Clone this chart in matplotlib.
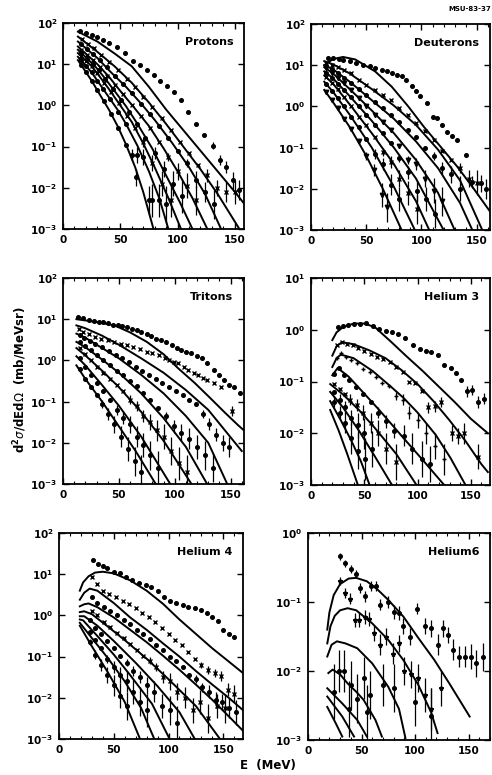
import numpy as np
import matplotlib
matplotlib.use("Agg")
import matplotlib.pyplot as plt
from matplotlib.ticker import FixedLocator, MultipleLocator, FuncFormatter, NullLocator

# all curve / point values are log10 of d2sigma/dEdOmega (mb/MeV sr)
# curves: (energies, log values); points: (E, log value[, error in decades])

# ---------------- protons ----------------
proton_lines = [
    ([13, 30, 45, 60, 75, 90, 105, 120, 135, 150, 158], [1.79, 1.55, 1.26, 0.95, 0.45, -0.1, -0.6, -1.1, -1.6, -2.1, -2.38]),
    ([13, 30, 45, 60, 75, 90, 105, 120, 135, 154], [1.67, 1.3, 0.95, 0.55, 0.07, -0.45, -1.0, -1.55, -2.15, -3.0]),
    ([13, 30, 42, 55, 68, 80, 95, 110, 124, 138], [1.55, 1.15, 0.8, 0.45, 0.05, -0.35, -0.9, -1.5, -2.15, -3.0]),
    ([13, 30, 40, 50, 62, 75, 88, 100, 113, 126], [1.43, 1.0, 0.7, 0.35, -0.05, -0.5, -1.05, -1.6, -2.25, -3.0]),
    ([13, 28, 36, 45, 55, 65, 78, 90, 102, 113], [1.35, 0.95, 0.68, 0.35, -0.02, -0.45, -1.05, -1.7, -2.35, -3.0]),
    ([13, 25, 32, 40, 50, 60, 70, 80, 92, 103], [1.27, 0.95, 0.7, 0.4, 0.0, -0.4, -0.92, -1.5, -2.25, -3.0]),
    ([13, 25, 32, 40, 48, 55, 65, 75, 84, 92], [1.18, 0.8, 0.52, 0.2, -0.12, -0.45, -0.98, -1.6, -2.25, -3.0]),
    ([13, 25, 32, 40, 48, 55, 63, 70, 79], [1.1, 0.6, 0.27, -0.1, -0.52, -0.95, -1.5, -2.1, -3.0]),
]
proton_points = [
    [(15, 1.8), (20, 1.76), (25, 1.71), (30, 1.65), (35, 1.58), (40, 1.52), (47, 1.42), (54, 1.27), (61, 1.08),
     (67, 0.97), (73, 0.86), (79, 0.74), (85, 0.6), (91, 0.47), (97, 0.33), (103, 0.13), (109, -0.15),
     (116, -0.44), (123, -0.72), (131, -0.98, 0.08), (137, -1.33, 0.12), (142, -1.5, 0.15), (148, -1.82, 0.2),
     (154, -2.05, 0.25)],
    [(17, 1.6), (22, 1.5), (27, 1.4), (33, 1.22), (40, 1.05), (48, 0.85), (56, 0.65), (63, 0.45), (70, 0.2),
     (78, -0.05), (86, -0.3), (94, -0.6), (102, -0.9), (110, -1.15), (118, -1.45), (126, -1.7, 0.15),
     (134, -2.0, 0.2), (142, -2.1, 0.25), (150, -2.1, 0.3)],
    [(16, 1.5), (21, 1.38), (26, 1.25), (32, 1.1), (38, 0.92), (45, 0.72), (52, 0.53), (60, 0.3), (68, 0.03),
     (76, -0.22), (84, -0.5), (92, -0.8), (100, -1.1), (108, -1.4, 0.1), (116, -1.8, 0.2), (124, -2.1, 0.25),
     (132, -2.4, 0.35)],
    [(16, 1.35), (21, 1.22), (26, 1.1), (32, 0.92), (38, 0.72), (45, 0.5), (52, 0.28), (60, 0.0), (68, -0.25),
     (76, -0.55), (84, -0.9), (92, -1.25, 0.1), (100, -1.6, 0.2), (108, -1.95, 0.3), (116, -2.3, 0.35)],
    [(16, 1.28), (21, 1.12), (26, 1.0), (31, 0.85), (37, 0.63), (44, 0.4), (51, 0.12), (58, -0.15), (65, -0.45),
     (72, -0.8), (80, -1.15, 0.15), (88, -1.55, 0.2), (96, -1.9, 0.3), (104, -2.2, 0.4)],
    [(16, 1.2), (20, 1.08), (25, 0.95), (30, 0.78), (36, 0.55), (42, 0.32), (49, 0.05), (56, -0.25), (63, -0.55),
     (70, -0.9, 0.1), (78, -1.4, 0.2), (86, -1.9, 0.3), (94, -2.3, 0.4)],
    [(16, 1.1), (20, 0.95), (25, 0.8), (30, 0.6), (35, 0.4), (41, 0.15), (48, -0.15), (55, -0.45),
     (60, -1.2, 0.15), (65, -1.2, 0.2), (70, -1.25, 0.2), (78, -2.3, 0.4), (84, -2.3, 0.4), (90, -2.4, 0.45)],
    [(16, 0.98), (20, 0.8), (25, 0.6), (30, 0.38), (36, 0.1), (42, -0.2), (48, -0.55), (55, -0.95),
     (64, -1.75, 0.2), (75, -2.3, 0.35)],
]
proton_marks = ['o', 'x', 'o', 'x', 'o', 'x', 'o', 'o']

# ---------------- deuterons ----------------
deuteron_lines = [
    ([12, 20, 29, 40, 58, 73, 88, 102, 117, 132, 146, 162], [1.0, 1.15, 1.2, 1.14, 0.85, 0.48, 0.0, -0.49, -0.97, -1.45, -1.95, -2.55]),
    ([12, 20, 35, 55, 75, 95, 115, 135, 155], [1.1, 1.02, 0.8, 0.42, 0.02, -0.45, -1.05, -1.8, -3.0]),
    ([12, 20, 35, 55, 75, 95, 115, 135, 146], [1.0, 0.9, 0.6, 0.15, -0.3, -0.85, -1.5, -2.35, -3.0]),
    ([12, 20, 35, 55, 75, 95, 115, 130], [0.95, 0.8, 0.42, -0.1, -0.65, -1.3, -2.1, -3.0]),
    ([12, 20, 35, 55, 75, 95, 120], [0.85, 0.68, 0.25, -0.35, -1.0, -1.75, -3.0]),
    ([12, 20, 35, 55, 75, 95, 107], [0.75, 0.55, 0.05, -0.65, -1.4, -2.3, -3.0]),
    ([12, 20, 35, 55, 75, 94], [0.6, 0.35, -0.2, -1.0, -1.95, -3.0]),
    ([12, 20, 35, 50, 65, 82], [0.4, 0.1, -0.5, -1.2, -2.0, -3.0]),
]
deuteron_points = [
    [(15, 1.17), (20, 1.17), (25, 1.15), (29, 1.13), (35, 1.1), (41, 1.05), (47, 1.01), (53, 0.97), (58, 0.93),
     (64, 0.89), (69, 0.85), (73, 0.81), (78, 0.77), (82, 0.73), (86, 0.63), (91, 0.49), (95, 0.37), (99, 0.25),
     (105, 0.08), (110, -0.25), (114, -0.28), (119, -0.45), (123, -0.61), (128, -0.72), (132, -0.81),
     (140, -1.17), (146, -1.83, 0.15), (154, -1.87, 0.2), (158, -2.0, 0.25)],
    [(14, 1.05), (19, 1.0), (24, 0.95), (30, 0.88), (36, 0.8), (43, 0.65), (50, 0.52), (58, 0.4), (65, 0.28),
     (72, 0.15), (80, -0.05), (88, -0.2), (95, -0.4), (103, -0.6), (111, -0.82), (119, -1.08), (127, -1.3),
     (135, -1.5, 0.12), (143, -1.75, 0.2), (150, -1.85, 0.3)],
    [(14, 0.98), (19, 0.9), (24, 0.8), (30, 0.7), (36, 0.58), (43, 0.42), (50, 0.28), (58, 0.1), (65, -0.05),
     (72, -0.2), (80, -0.38), (88, -0.58), (95, -0.75), (103, -1.0), (111, -1.2, 0.1), (119, -1.5, 0.15),
     (127, -1.65, 0.2), (135, -2.0, 0.3)],
    [(14, 0.92), (19, 0.82), (24, 0.7), (30, 0.56), (36, 0.4), (43, 0.2), (50, 0.02), (58, -0.2), (65, -0.38),
     (72, -0.57), (80, -0.95), (88, -1.3, 0.1), (95, -1.4, 0.15), (103, -1.75, 0.2), (111, -2.05, 0.3),
     (119, -2.3, 0.35)],
    [(14, 0.82), (19, 0.7), (24, 0.55), (30, 0.4), (36, 0.22), (43, 0.0), (50, -0.2), (58, -0.45), (65, -0.65),
     (72, -0.9), (80, -1.25, 0.1), (88, -1.6, 0.15), (96, -2.05, 0.25), (104, -2.25, 0.3), (112, -2.6, 0.35)],
    [(14, 0.72), (19, 0.58), (24, 0.42), (30, 0.22), (36, 0.0), (43, -0.25), (50, -0.45), (58, -0.75),
     (65, -1.1, 0.1), (72, -1.35, 0.15), (80, -1.75, 0.2), (88, -2.1, 0.3), (96, -2.5, 0.35)],
    [(14, 0.55), (19, 0.38), (24, 0.2), (30, 0.0), (36, -0.25), (43, -0.5), (50, -0.8), (58, -1.15, 0.12),
     (65, -1.4, 0.15), (72, -1.9, 0.25), (80, -2.25, 0.3)],
    [(14, 0.35), (19, 0.15), (24, -0.05), (30, -0.3), (36, -0.55), (43, -0.85), (50, -1.2, 0.1),
     (57, -1.55, 0.15), (64, -2.15, 0.3), (69, -2.45, 0.35)],
]
deuteron_marks = ['o', 'x', 'o', 'v', 'o', 'x', 'o', 'v']

# ---------------- tritons ----------------
triton_lines = [
    ([12, 20, 30, 46, 60, 75, 90, 103, 118, 132, 145, 157, 162], [1.0, 0.97, 0.93, 0.85, 0.68, 0.45, 0.15, -0.19, -0.55, -0.92, -1.27, -1.58, -1.7]),
    ([12, 20, 35, 50, 70, 90, 110, 130, 145, 160], [0.85, 0.78, 0.6, 0.38, 0.05, -0.3, -0.72, -1.2, -1.7, -2.2]),
    ([12, 20, 35, 50, 70, 90, 110, 130, 147], [0.65, 0.55, 0.3, 0.05, -0.35, -0.8, -1.35, -2.0, -3.0]),
    ([12, 20, 35, 50, 70, 90, 110, 129], [0.45, 0.32, 0.02, -0.3, -0.8, -1.4, -2.1, -3.0]),
    ([12, 20, 35, 50, 70, 90, 115], [0.3, 0.12, -0.25, -0.65, -1.25, -1.95, -3.0]),
    ([12, 20, 35, 50, 70, 96], [0.1, -0.12, -0.6, -1.1, -1.85, -3.0]),
    ([12, 20, 35, 50, 65, 83], [-0.12, -0.45, -1.0, -1.6, -2.2, -3.0]),
]
triton_points = [
    [(13, 1.06), (18, 1.02), (23, 0.98), (28, 0.95), (32, 0.94), (36, 0.92), (40, 0.9), (45, 0.87), (49, 0.85),
     (53, 0.83), (57, 0.81), (62, 0.77), (66, 0.73), (70, 0.69), (75, 0.65), (79, 0.6), (83, 0.53), (88, 0.49),
     (92, 0.44), (98, 0.37), (102, 0.3), (106, 0.25), (110, 0.21), (115, 0.17), (120, 0.1), (124, 0.05),
     (129, -0.07), (135, -0.23), (140, -0.35), (144, -0.47), (149, -0.6), (153, -0.64), (158, -0.78)],
    [(14, 0.77), (18, 0.7), (23, 0.64), (29, 0.57), (34, 0.53), (40, 0.49), (46, 0.45), (52, 0.41), (57, 0.37),
     (63, 0.33), (69, 0.27), (75, 0.21), (80, 0.17), (86, 0.13), (91, 0.07), (95, 0.01), (99, -0.03),
     (103, -0.07), (108, -0.15), (112, -0.23), (117, -0.3), (121, -0.36), (125, -0.42), (129, -0.48),
     (135, -0.56), (141, -0.64), (151, -1.22, 0.12)],
    [(15, 0.62), (19, 0.55), (24, 0.48), (29, 0.4), (35, 0.32), (41, 0.22), (47, 0.13), (53, 0.05), (59, -0.05),
     (65, -0.15), (71, -0.25), (77, -0.35), (83, -0.45), (89, -0.55), (95, -0.65), (101, -0.75), (107, -0.85),
     (113, -0.95), (119, -1.05), (125, -1.3, 0.1), (131, -1.55, 0.15), (137, -1.8, 0.15), (143, -2.0, 0.2),
     (149, -2.1, 0.25)],
    [(15, 0.45), (20, 0.35), (25, 0.25), (30, 0.12), (36, 0.0), (42, -0.12), (48, -0.25), (54, -0.35), (60, -0.5),
     (66, -0.62), (72, -0.78), (78, -0.95), (85, -1.15), (92, -1.35, 0.1), (99, -1.6, 0.15), (106, -1.75, 0.2),
     (113, -1.9, 0.25), (120, -2.1, 0.3), (127, -2.3, 0.35), (134, -2.6, 0.35)],
    [(15, 0.3), (20, 0.15), (25, 0.0), (30, -0.15), (36, -0.3), (42, -0.45), (48, -0.6), (54, -0.75),
     (60, -0.95, 0.1), (66, -1.1, 0.12), (72, -1.35, 0.15), (78, -1.5, 0.2), (84, -1.7, 0.25), (90, -1.85, 0.3),
     (97, -2.2, 0.35), (104, -2.5, 0.4), (111, -2.7, 0.4)],
    [(15, 0.05), (20, -0.15), (25, -0.35), (30, -0.55), (36, -0.75), (42, -0.95), (48, -1.2, 0.12),
     (54, -1.4, 0.15), (60, -1.55, 0.2), (66, -1.85, 0.25), (72, -2.05, 0.3), (78, -2.3, 0.35), (85, -2.6, 0.4)],
    [(15, -0.2), (20, -0.45), (25, -0.65), (30, -0.85), (35, -1.05, 0.1), (40, -1.3, 0.15), (46, -1.55, 0.2),
     (52, -1.85, 0.25), (58, -2.15, 0.3), (64, -2.45, 0.35), (70, -2.7, 0.4)],
]
triton_marks = ['o', 'x', 'o', 'o', 'x', 'o', 'o']

# ---------------- helium 3 ----------------
he3_lines = [
    ([20, 24, 30, 40, 50, 60, 75, 90, 105, 120, 135, 150, 166], [-0.2, -0.05, 0.05, 0.12, 0.12, 0.05, -0.23, -0.52, -0.8, -1.1, -1.4, -1.72, -2.0]),
    ([20, 24, 29, 40, 55, 70, 85, 100, 115, 130, 145, 160, 166], [-0.5, -0.32, -0.24, -0.28, -0.4, -0.55, -0.78, -1.05, -1.38, -1.75, -2.15, -2.6, -2.75]),
    ([20, 24, 28, 40, 58, 75, 87, 100, 117, 131, 145], [-0.72, -0.55, -0.48, -0.55, -0.8, -1.1, -1.32, -1.6, -2.03, -2.48, -3.0]),
    ([20, 25, 35, 44, 64, 85, 105, 125], [-0.88, -0.74, -0.9, -1.1, -1.55, -2.05, -2.52, -3.0]),
    ([18, 30, 45, 60, 80, 99], [-1.05, -1.25, -1.55, -1.9, -2.4, -3.0]),
    ([18, 30, 45, 60, 76], [-1.2, -1.5, -1.95, -2.45, -3.0]),
    ([18, 28, 38, 47, 55], [-1.38, -1.75, -2.15, -2.55, -3.0]),
    ([18, 26, 34, 44], [-1.55, -1.95, -2.4, -3.0]),
]
he3_points = [
    [(25, 0.06), (30, 0.08), (35, 0.1), (40, 0.11), (46, 0.12), (52, 0.13), (58, 0.07), (64, 0.02), (70, -0.02),
     (76, -0.05), (82, -0.08), (88, -0.16), (96, -0.29), (102, -0.37), (108, -0.41), (113, -0.43), (119, -0.48),
     (125, -0.68), (131, -0.74), (136, -0.84), (141, -0.97), (146, -1.19, 0.1), (151, -1.16, 0.1),
     (157, -1.4, 0.12), (162, -1.33, 0.1)],
    [(24, -0.3), (29, -0.24), (34, -0.27), (39, -0.3), (44, -0.35), (50, -0.41), (56, -0.46), (62, -0.52),
     (68, -0.57), (74, -0.62), (80, -0.72), (86, -0.82), (92, -1.0), (98, -1.02), (104, -1.19), (110, -1.5, 0.1),
     (116, -1.48, 0.1), (122, -1.39, 0.1), (132, -2.0, 0.15), (138, -2.05, 0.15), (144, -2.0, 0.2),
     (157, -2.45, 0.25)],
    [(24, -0.55), (28, -0.45), (33, -0.52), (38, -0.58), (43, -0.65), (49, -0.75), (55, -0.82), (61, -0.92),
     (67, -1.02), (73, -1.08), (80, -1.28, 0.08), (86, -1.35, 0.1), (92, -1.6, 0.12), (100, -1.75, 0.15),
     (108, -2.0, 0.2), (116, -2.25, 0.25), (125, -2.5, 0.3)],
    [(22, -0.85), (26, -0.74), (31, -0.88), (36, -0.97), (42, -1.1), (49, -1.25), (56, -1.4), (63, -1.6, 0.1),
     (70, -1.77, 0.12), (78, -1.95, 0.15), (87, -2.05, 0.2), (95, -2.3, 0.3), (104, -2.5, 0.35), (112, -2.6, 0.35)],
    [(22, -1.05), (27, -1.15), (32, -1.25), (37, -1.35, 0.1), (43, -1.45, 0.12), (49, -1.6, 0.15),
     (56, -1.8, 0.2), (63, -2.0, 0.25), (70, -2.3, 0.3), (80, -2.55, 0.35)],
    [(22, -1.2), (27, -1.35, 0.1), (32, -1.5, 0.12), (38, -1.7, 0.15), (44, -1.85, 0.25), (50, -2.0, 0.3),
     (57, -2.3, 0.35)],
    [(22, -1.4, 0.1), (27, -1.6, 0.12), (32, -1.8, 0.2), (38, -2.1, 0.3), (44, -2.35, 0.35), (51, -2.5, 0.4)],
]
he3_marks = ['o', 'x', '+', 'o', 'x', 'o', 'o']

# ---------------- helium 4 ----------------
he4_lines = [
    ([19, 22, 27, 33, 40, 50, 65, 80, 95, 110, 125, 140, 155, 168], [0.6, 0.8, 0.95, 1.04, 1.06, 1.02, 0.85, 0.6, 0.28, -0.1, -0.45, -0.8, -1.12, -1.4]),
    ([19, 23, 28, 35, 50, 65, 80, 95, 110, 125, 140, 155, 168], [0.38, 0.55, 0.65, 0.6, 0.3, -0.05, -0.35, -0.68, -1.0, -1.35, -1.68, -2.0, -2.3]),
    ([19, 23, 27, 35, 50, 65, 80, 95, 110, 125, 140, 155, 168], [0.22, 0.27, 0.29, 0.2, -0.05, -0.35, -0.65, -0.98, -1.32, -1.68, -2.05, -2.45, -2.8]),
    ([19, 23, 30, 45, 60, 80, 100, 125, 147], [0.08, 0.1, 0.03, -0.28, -0.6, -1.05, -1.55, -2.2, -3.0]),
    ([19, 23, 35, 50, 70, 90, 110, 124], [-0.02, -0.02, -0.25, -0.62, -1.15, -1.72, -2.35, -3.0]),
    ([19, 22, 35, 50, 65, 85, 101], [-0.1, -0.12, -0.5, -0.95, -1.45, -2.15, -3.0]),
    ([19, 30, 45, 60, 75, 87], [-0.18, -0.55, -1.05, -1.6, -2.25, -3.0]),
    ([19, 30, 45, 60, 74], [-0.25, -0.75, -1.4, -2.1, -3.0]),
]
he4_points = [
    [(31, 1.35), (36, 1.25), (40, 1.2), (44, 1.14), (50, 1.06), (56, 1.02), (61, 0.94), (67, 0.85), (73, 0.79),
     (79, 0.73), (84, 0.68), (90, 0.6), (96, 0.44), (101, 0.35), (107, 0.31), (113, 0.25), (118, 0.21),
     (124, 0.17), (130, 0.12), (135, 0.05), (140, -0.05), (145, -0.13), (150, -0.35), (155, -0.44), (160, -0.52)],
    [(30, 0.94), (35, 0.75), (40, 0.6), (46, 0.52), (52, 0.45), (58, 0.36), (64, 0.27), (70, 0.17), (76, 0.07),
     (82, -0.05), (88, -0.17), (94, -0.3), (100, -0.45), (106, -0.6), (112, -0.72), (118, -0.9), (124, -1.05),
     (130, -1.2, 0.08), (136, -1.32, 0.1), (142, -1.4, 0.1), (148, -1.48, 0.12), (154, -1.8, 0.15),
     (160, -1.9, 0.2)],
    [(30, 0.45), (35, 0.3), (41, 0.2), (47, 0.1), (53, 0.0), (59, -0.1), (65, -0.22), (71, -0.35), (77, -0.45),
     (83, -0.58), (89, -0.72), (95, -0.85), (101, -1.0), (107, -1.1), (113, -1.25), (119, -1.45),
     (125, -1.55, 0.1), (131, -1.75, 0.12), (137, -1.85, 0.15), (143, -2.05, 0.2), (149, -2.1, 0.2),
     (155, -2.25, 0.25), (162, -2.35, 0.3)],
    [(30, 0.1), (35, 0.0), (41, -0.15), (47, -0.28), (53, -0.42), (59, -0.55), (65, -0.7), (71, -0.85),
     (77, -0.98), (83, -1.1, 0.08), (89, -1.25, 0.1), (95, -1.5, 0.15), (101, -1.6, 0.2), (108, -1.85, 0.2),
     (115, -2.0, 0.25), (122, -2.3, 0.3), (129, -2.1, 0.3), (136, -2.5, 0.35), (144, -2.2, 0.3),
     (152, -2.25, 0.35)],
    [(28, -0.1), (33, -0.3), (38, -0.45), (44, -0.62), (50, -0.8), (56, -0.98), (62, -1.15, 0.08),
     (68, -1.35, 0.12), (74, -1.5, 0.15), (80, -1.7, 0.2), (87, -1.85, 0.25), (94, -2.2, 0.3),
     (101, -2.3, 0.35), (108, -2.6, 0.4)],
    [(28, -0.4), (33, -0.6), (38, -0.8), (44, -1.05, 0.1), (50, -1.25, 0.15), (56, -1.45, 0.2),
     (62, -1.6, 0.25), (68, -1.85, 0.3), (74, -2.1, 0.35), (80, -2.3, 0.4)],
    [(28, -0.65, 0.08), (33, -0.95, 0.1), (38, -1.2, 0.15), (44, -1.45, 0.2), (50, -1.7, 0.25),
     (56, -1.95, 0.3), (62, -2.2, 0.35)],
]
he4_marks = ['o', 'x', 'o', 'x', 'o', 'o', 'o']

# ---------------- helium 6 ----------------
he6_lines = [
    ([18, 20, 24, 30, 38, 45, 55, 65, 75, 89, 103, 118, 132, 151], [-1.4, -1.15, -0.9, -0.74, -0.66, -0.65, -0.7, -0.82, -0.97, -1.21, -1.52, -1.84, -2.18, -2.66]),
    ([18, 21, 25, 30, 37, 45, 60, 75, 89, 103, 115, 121], [-1.6, -1.35, -1.2, -1.12, -1.09, -1.12, -1.31, -1.55, -1.84, -2.2, -2.6, -2.9]),
    ([18, 22, 27, 35, 46, 60, 75, 85, 91], [-1.79, -1.62, -1.57, -1.6, -1.67, -1.89, -2.23, -2.55, -2.97]),
    ([19, 23, 30, 37, 45, 52, 63, 69], [-2.03, -1.98, -2.05, -2.18, -2.3, -2.42, -2.71, -2.95]),
    ([18, 32, 46, 55], [-2.25, -2.47, -2.71, -2.95]),
    ([18, 32, 43], [-2.37, -2.66, -2.95]),
    ([18, 26, 32], [-2.52, -2.76, -2.95]),
]
he6_points = [
    [(30, -0.34, 0.05), (34.5, -0.44, 0.05), (39.7, -0.52, 0.06), (44.5, -0.59, 0.06), (49, -0.8, 0.07),
     (53, -0.92, 0.08), (59, -0.77, 0.07), (63.5, -0.77, 0.07), (67.5, -1.04, 0.08), (75, -1.0, 0.08),
     (80, -1.14, 0.1), (85, -1.16, 0.1), (89, -1.35, 0.12), (95, -1.5, 0.12), (102, -1.1, 0.08),
     (109, -1.35, 0.12), (115, -1.38, 0.12), (121, -1.62, 0.15), (126, -1.38, 0.12), (131, -1.48, 0.12),
     (135, -1.69, 0.15), (141, -1.79, 0.15), (147, -1.79, 0.15), (152, -1.79, 0.18), (157, -1.89, 0.2),
     (163, -1.8, 0.2)],
    [(30, -0.7, 0.06), (34.5, -0.87, 0.07), (39, -0.95, 0.08), (44, -1.26, 0.1), (48, -1.26, 0.1),
     (53, -1.22, 0.1), (57, -1.25, 0.1), (62, -1.45, 0.12), (67, -1.62, 0.15), (73, -1.5, 0.12),
     (79, -1.75, 0.15), (85, -1.6, 0.12), (90, -2.0, 0.2), (96, -2.05, 0.2), (103, -2.1, 0.2),
     (109, -2.35, 0.25), (115, -2.55, 0.3), (124, -2.25, 0.25)],
    [(29, -2.0, 0.3), (34, -2.0, 0.3), (40, -2.2, 0.35), (46, -2.4, 0.35), (52, -2.1, 0.3), (58, -2.35, 0.35),
     (70, -2.2, 0.3), (80, -2.25, 0.35), (100, -2.45, 0.35)],
    [(24, -2.3, 0.4), (38, -2.55, 0.4), (55, -2.6, 0.4), (115, -2.65, 0.4)],
]
he6_marks = ['o', '*', 'o', 'o']

# panel boxes in pixels: left, right, top, bottom (figure is 492 x 775)
W, H = 492, 775
panels = [
    ("Protons", (63, 244, 23, 229), 158, 2, proton_lines, proton_points, proton_marks),
    ("Deuterons", (311, 490, 24, 230), 162, 2, deuteron_lines, deuteron_points, deuteron_marks),
    ("Tritons", (63, 244, 278, 484), 162, 2, triton_lines, triton_points, triton_marks),
    ("Helium 3", (311, 490, 278, 485), 168, 1, he3_lines, he3_points, he3_marks),
    ("Helium 4", (59, 243, 533, 739), 168, 2, he4_lines, he4_points, he4_marks),
    ("Helium6", (308, 490, 533, 740), 170, 0, he6_lines, he6_points, he6_marks),
]

fig = plt.figure(figsize=(W / 100, H / 100), dpi=100)
fig.patch.set_facecolor('white')

def dec_label(v, pos):
    e = int(round(np.log10(v)))
    return r'$\mathbf{10^{%d}}$' % e

for name, (l, r, t, b), xmax, ytop, lines, points, marks in panels:
    ax = fig.add_axes([l / W, 1 - b / H, (r - l) / W, (b - t) / H])
    ax.set_yscale('log')
    ax.set_xlim(0, xmax)
    ax.set_ylim(1e-3, 10.0 ** ytop)

    for e, lg in lines:
        ax.plot(e, 10.0 ** np.array(lg), color='black', lw=1.4, solid_joinstyle='round', zorder=3)

    for pts, m in zip(points, marks):
        ex = np.array([p[0] for p in pts], float)
        ly = np.array([p[1] for p in pts], float)
        er = np.array([p[2] if len(p) > 2 else 0.0 for p in pts], float)
        y = 10.0 ** ly
        yerr = [y - 10.0 ** (ly - er), 10.0 ** (ly + er) - y]
        ax.errorbar(ex, y, yerr=yerr, fmt='none', ecolor='black', elinewidth=0.9, capsize=0, zorder=2)
        ax.plot(ex, y, linestyle='none', marker=m, color='black',
                markersize=2.6 if m == 'o' else 3.2, markeredgewidth=1.0, zorder=2)

    ax.xaxis.set_major_locator(FixedLocator([0, 50, 100, 150]))
    ax.xaxis.set_minor_locator(MultipleLocator(10))
    ax.yaxis.set_major_locator(FixedLocator([10.0 ** k for k in range(-3, ytop + 1)]))
    ax.yaxis.set_minor_locator(NullLocator())
    ax.yaxis.set_major_formatter(FuncFormatter(dec_label))
    ax.tick_params(which='both', direction='in', top=True, right=True, colors='black')
    ax.tick_params(which='major', length=4, width=1.0, labelsize=7.5, pad=4)
    ax.tick_params(which='minor', length=2, width=0.8)
    for lab in ax.get_xticklabels():
        lab.set_fontweight('bold')
    for sp in ax.spines.values():
        sp.set_linewidth(1.3)

    ax.text(0.94, 0.93, name, transform=ax.transAxes, ha='right', va='top',
            fontsize=8, fontweight='bold')

fig.text(20 / W, 1 - 380 / H, r'd$^{\mathbf{2}}\sigma$/dEd$\Omega$  (mb/MeVsr)', rotation=90,
         ha='center', va='center', fontsize=8.5, fontweight='bold')
fig.text(268 / W, 1 - 766 / H, 'E  (MeV)', ha='center', va='center', fontsize=8.5, fontweight='bold')
fig.text(470 / W, 1 - 9 / H, 'MSU-83-37', ha='center', va='center', fontsize=5, fontweight='bold')

fig.savefig('out.png', dpi=100, facecolor='white')
